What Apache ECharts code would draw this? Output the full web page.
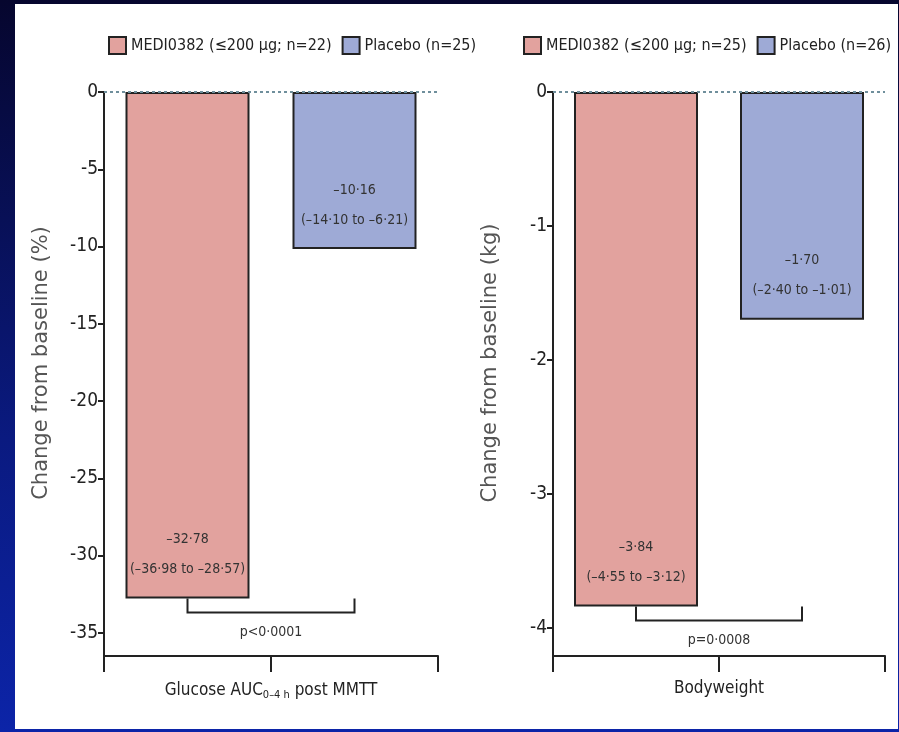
<!DOCTYPE html>
<html>
<head>
<meta charset="utf-8">
<script src="https://cdn.jsdelivr.net/npm/echarts@6/dist/echarts.min.js"></script>
<style>
  html, body { margin: 0; padding: 0; }
  body {
    width: 899px; height: 732px; overflow: hidden; position: relative;
    background: linear-gradient(to bottom, #06062e 0%, #0a1a80 60%, #0c24a8 100%);
  }
  #panel { position: absolute; left: 15px; top: 4px; width: 883px; height: 725px; background: #fff; }
  #chart { position: absolute; left: 0; top: 0; width: 899px; height: 732px; }
</style>
</head>
<body>
<div id="panel"></div>
<div id="chart"></div>
<script>
// groups and legend names (n differs between the two panels)
const groups = ['MEDI0382', 'Placebo'];
const legendGlucose = ['MEDI0382 (≤200 µg; n=22)', 'Placebo (n=25)'];
const legendWeight = ['MEDI0382 (≤200 µg; n=25)', 'Placebo (n=26)'];

// change from baseline with 95% CI
const glucoseChange = [-32.78, -10.16];
const glucoseLow = [-36.98, -14.10];
const glucoseHigh = [-28.57, -6.21];
const weightChange = [-3.84, -1.70];
const weightLow = [-4.55, -2.40];
const weightHigh = [-3.12, -1.01];

const glucoseTicks = [0, -5, -10, -15, -20, -25, -30, -35];
const weightTicks = [0, -1, -2, -3, -4];
const pValues = ['p<0·0001', 'p=0·0008'];

const colors = ['#e2a29e', '#9eaad6'];
const narrow = "'DejaVu Sans Condensed', 'DejaVu Sans', sans-serif";
const ink = '#222';

var myChart = echarts.init(document.getElementById('chart'));

function fmt(v) {
  return v.toFixed(2).replace('.', '·').replace('-', '–');
}

function barSeries(name, i, change, low, high, axis) {
  const data = groups.map((g, j) => (j === i ? change[i] : '-'));
  const s = {
    name: name,
    type: 'bar',
    stack: 'panel' + axis,
    xAxisIndex: axis,
    yAxisIndex: axis,
    barWidth: 124,
    data: data,
    itemStyle: { color: colors[i], borderColor: ink, borderWidth: 2 },
    label: {
      show: true,
      position: 'insideBottom',
      distance: 14,
      fontFamily: narrow,
      fontSize: 14,
      lineHeight: 30,
      color: '#333',
      formatter: () => fmt(change[i]) + '\n(' + fmt(low[i]) + ' to ' + fmt(high[i]) + ')'
    }
  };
  if (i === 0) {
    s.markLine = {
      silent: true,
      symbol: ['none', 'none'],
      label: { show: false },
      lineStyle: { type: [3, 3], color: '#6f8f9c', width: 2 },
      data: [{ yAxis: 0 }]
    };
  }
  return s;
}

function yAxis(grid, min, ticks, name) {
  return {
    type: 'value',
    gridIndex: grid,
    min: min,
    max: 0,
    name: name,
    nameLocation: 'middle',
    nameGap: 52,
    nameTextStyle: { fontFamily: 'DejaVu Sans', fontSize: 21, color: '#555', padding: [0, 0, 0, 22] },
    axisLine: { show: true, lineStyle: { color: ink, width: 2 } },
    axisTick: { show: true, length: 6, customValues: ticks, lineStyle: { color: ink, width: 2 } },
    axisLabel: { customValues: ticks, margin: 6, fontFamily: narrow, fontSize: 19, color: ink },
    splitLine: { show: false }
  };
}

function xAxis(grid, name) {
  return {
    type: 'category',
    gridIndex: grid,
    data: groups,
    name: name,
    nameLocation: 'middle',
    nameGap: 24,
    nameTextStyle: {
      fontFamily: narrow, fontSize: 17, color: ink,
      rich: { sub: { fontFamily: narrow, fontSize: 11, color: ink, verticalAlign: 'bottom', padding: [10, 0, 0, 0] } }
    },
    axisLine: { show: true, onZero: false, lineStyle: { color: ink, width: 2 } },
    axisTick: { show: true, length: 16, lineStyle: { color: ink, width: 2 } },
    axisLabel: { show: false }
  };
}

function legend(names, left) {
  return {
    data: names,
    left: left,
    top: 31,
    icon: 'rect',
    itemWidth: 17,
    itemHeight: 17,
    itemGap: 10,
    selectedMode: false,
    textStyle: { fontFamily: narrow, fontSize: 16, color: ink }
  };
}

const option = {
  animation: false,
  backgroundColor: 'transparent',
  legend: [legend(legendGlucose, 103), legend(legendWeight, 518)],
  grid: [
    { left: 104, top: 92, width: 334, height: 564 },
    { left: 553, top: 92, width: 332, height: 564 }
  ],
  xAxis: [
    xAxis(0, 'Glucose AUC{sub|0–4 h} post MMTT'),
    xAxis(1, 'Bodyweight')
  ],
  yAxis: [
    yAxis(0, -36.5, glucoseTicks, 'Change from baseline (%)'),
    yAxis(1, -4.21, weightTicks, 'Change from baseline (kg)')
  ],
  series: [
    barSeries(legendGlucose[0], 0, glucoseChange, glucoseLow, glucoseHigh, 0),
    barSeries(legendGlucose[1], 1, glucoseChange, glucoseLow, glucoseHigh, 0),
    barSeries(legendWeight[0], 0, weightChange, weightLow, weightHigh, 1),
    barSeries(legendWeight[1], 1, weightChange, weightLow, weightHigh, 1)
  ]
};

myChart.setOption(option);

// significance brackets between the bar centres, hung below the deeper bar
const changes = [glucoseChange, weightChange];
const elements = [];
changes.forEach((change, k) => {
  const deepest = Math.min.apply(null, change);
  const a = myChart.convertToPixel({ xAxisIndex: k, yAxisIndex: k }, [0, deepest]);
  const b = myChart.convertToPixel({ xAxisIndex: k, yAxisIndex: k }, [1, deepest]);
  const drop = 14;
  elements.push({
    type: 'polyline',
    shape: { points: [[a[0], a[1]], [a[0], a[1] + drop], [b[0], a[1] + drop], [b[0], a[1]]] },
    style: { stroke: ink, lineWidth: 2, fill: null }
  });
  elements.push({
    type: 'text',
    x: (a[0] + b[0]) / 2,
    y: a[1] + drop + 20,
    style: {
      text: pValues[k], fontFamily: narrow, fontSize: 14, fill: '#333',
      align: 'center', verticalAlign: 'middle'
    }
  });
});
myChart.setOption({ graphic: elements });
</script>
</body>
</html>
